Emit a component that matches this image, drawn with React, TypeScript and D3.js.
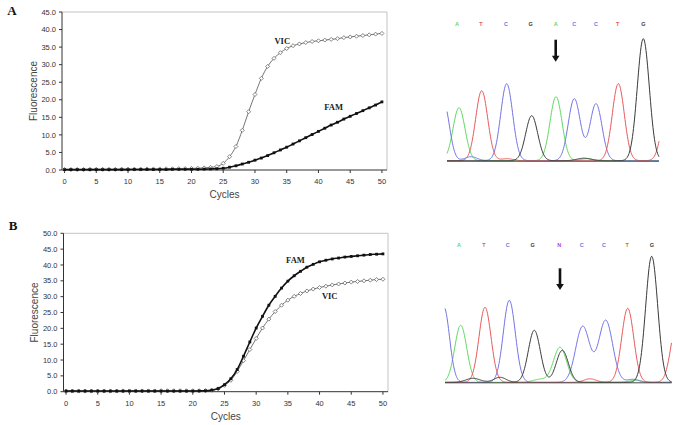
import * as d3 from "d3";

// ── qPCR amplification data (cycle 0..50) ─────────────────────────
const CYCLES = d3.range(0, 51);

const VIC_A = [
  0.15, 0.15, 0.15, 0.15, 0.2, 0.2, 0.2, 0.2, 0.2, 0.25,
  0.25, 0.25, 0.25, 0.3, 0.3, 0.3, 0.35, 0.35, 0.4, 0.4,
  0.45, 0.5, 0.6, 0.75, 1.0, 1.9, 3.8, 6.7, 11.3, 16.6,
  21.5, 26.1, 29.5, 31.8, 33.4, 34.6, 35.4, 35.9, 36.3, 36.6,
  36.8, 37.0, 37.2, 37.4, 37.7, 37.9, 38.1, 38.3, 38.5, 38.7,
  38.9,
];
const FAM_A = [
  0.1, 0.1, 0.1, 0.1, 0.1, 0.1, 0.1, 0.1, 0.1, 0.1,
  0.1, 0.15, 0.15, 0.15, 0.15, 0.15, 0.15, 0.2, 0.2, 0.2,
  0.2, 0.2, 0.25, 0.3, 0.35, 0.5, 0.8, 1.2, 1.7, 2.2,
  2.8, 3.4, 4.1, 4.9, 5.7, 6.5, 7.4, 8.3, 9.2, 10.1,
  11.0, 11.9, 12.8, 13.6, 14.5, 15.3, 16.1, 16.9, 17.7, 18.5,
  19.4,
];
const FAM_B = [
  0.2, 0.2, 0.2, 0.2, 0.2, 0.2, 0.2, 0.2, 0.2, 0.2,
  0.2, 0.2, 0.2, 0.2, 0.2, 0.2, 0.2, 0.2, 0.2, 0.2,
  0.2, 0.25, 0.3, 0.5, 1.0, 2.2, 4.1, 7.0, 11.2, 15.7,
  20.1, 23.8, 27.3, 30.1, 32.7, 34.9, 36.6, 38.0, 39.3, 40.2,
  41.0, 41.5, 41.9, 42.2, 42.5, 42.7, 42.9, 43.1, 43.3, 43.4,
  43.5,
];
const VIC_B = [
  0.2, 0.2, 0.2, 0.2, 0.2, 0.2, 0.2, 0.2, 0.2, 0.25,
  0.25, 0.25, 0.25, 0.25, 0.25, 0.3, 0.3, 0.3, 0.3, 0.3,
  0.3, 0.3, 0.35, 0.45, 0.9, 2.0, 3.6, 6.4, 9.8, 13.3,
  16.8, 20.1, 22.9, 25.3, 27.3, 28.9, 30.1, 31.0, 31.8, 32.4,
  32.9, 33.3, 33.7, 34.0, 34.3, 34.6, 34.8, 35.0, 35.2, 35.4,
  35.5,
];

const X_TICKS = d3.range(0, 51, 5);
const Y_TICKS_A = d3.range(0, 46, 5);
const Y_TICKS_B = d3.range(0, 51, 5);

// ── Sequencing chromatogram: [base, scan position, height, width] ──
type Peak = [string, number, number, number];

const PEAKS_A: Peak[] = [
  ["C", -3, 57, 5.5], ["A", 12, 53, 6], ["T", 34.7, 70, 6], ["C", 59.7, 77, 6],
  ["G", 84.7, 45, 6], ["A", 109, 64, 6], ["C", 127.3, 62, 6], ["C", 149, 57, 6],
  ["T", 171.3, 77, 6], ["G", 196.3, 122, 6], ["T", 221, 60, 6],
  ["C", 24, 4, 6], ["G", 137, 2.5, 7], ["T", 60, 2, 6], ["A", 140, 2, 6],
];
const CALLS_A = ["A", "T", "C", "G", "A", "C", "C", "T", "G"];
const CALL_POS_A = [10, 34, 59, 83.7, 108.7, 127.3, 149, 170.7, 196.3];

const PEAKS_B: Peak[] = [
  ["C", -1, 75, 5.5], ["A", 15.7, 57, 6], ["T", 40, 75, 6], ["C", 64.3, 82, 6],
  ["G", 89.3, 52, 6], ["G", 117.3, 32, 6], ["A", 115, 35, 6.5], ["C", 137.7, 56, 7],
  ["C", 160.7, 62, 7], ["T", 182.7, 74, 6], ["G", 206.7, 126, 6], ["T", 232, 60, 6],
  ["G", 28, 4, 7], ["G", 55, 5, 6], ["A", 95, 3, 7], ["T", 145, 3.5, 6],
  ["C", 188, 3, 6], ["A", 190, 2, 6],
];
const CALLS_B = ["A", "T", "C", "G", "N", "C", "C", "T", "G"];
const CALL_POS_B = [14, 39, 62.7, 87.7, 114.3, 136.7, 159, 182.3, 207];

const BASE_COLORS: Record<string, string> = {
  A: "#5fd95f",
  T: "#e85a5a",
  C: "#7474e6",
  G: "#3a3a3a",
  N: "#b040f0",
};
const TRACE_ORDER = ["A", "C", "T", "G"];

const AXIS_FONT = "'Liberation Sans', Arial, sans-serif";
const SERIF = "'Liberation Serif', 'Times New Roman', serif";

interface SeriesDef {
  values: number[];
  kind: "vic" | "fam";
}
interface LabelDef {
  text: string;
  x: number; // cycle
  y: number; // fluorescence
}

function AmpPlot(props: {
  left: number;
  right: number;
  top: number;
  bottom: number;
  yMax: number;
  yTicks: number[];
  series: SeriesDef[];
  labels: LabelDef[];
}) {
  const { left, right, top, bottom, yMax, yTicks, series, labels } = props;
  const x = d3.scaleLinear().domain([-0.4, 50.8]).range([left, right]);
  const y = d3.scaleLinear().domain([0, yMax]).range([bottom, top]);
  const line = d3
    .line<number>()
    .x((_, i) => x(CYCLES[i]))
    .y((d) => y(d))
    .curve(d3.curveMonotoneX);
  const fmt = d3.format(".1f");

  return (
    <g>
      {/* frame */}
      <line x1={left} x2={right} y1={top} y2={top} stroke="#c4c4c4" strokeWidth={1} />
      <line x1={right} x2={right} y1={top} y2={bottom} stroke="#c4c4c4" strokeWidth={1} />
      <line x1={left} x2={left} y1={top} y2={bottom} stroke="#333" strokeWidth={1} />
      <line x1={left} x2={right} y1={bottom} y2={bottom} stroke="#333" strokeWidth={1} />

      {yTicks.map((t) => (
        <g key={"y" + t}>
          <line x1={left - 3} x2={left} y1={y(t)} y2={y(t)} stroke="#333" />
          <text
            x={left - 6}
            y={y(t)}
            dy="0.35em"
            textAnchor="end"
            fontSize={7.5}
            fontFamily={AXIS_FONT}
            fill="#333"
          >
            {fmt(t)}
          </text>
        </g>
      ))}
      {X_TICKS.map((t) => (
        <g key={"x" + t}>
          <line x1={x(t)} x2={x(t)} y1={bottom} y2={bottom + 3} stroke="#333" />
          <text
            x={x(t)}
            y={bottom + 14}
            textAnchor="middle"
            fontSize={7.5}
            fontFamily={AXIS_FONT}
            fill="#333"
          >
            {t}
          </text>
        </g>
      ))}

      <text
        x={(left + right) / 2}
        y={bottom + 28}
        textAnchor="middle"
        fontSize={10}
        fontFamily={AXIS_FONT}
        fill="#444"
      >
        Cycles
      </text>
      <text
        transform={`translate(${left - 29},${(top + bottom) / 2}) rotate(-90)`}
        textAnchor="middle"
        dy="0.35em"
        fontSize={10}
        fontFamily={AXIS_FONT}
        fill="#444"
      >
        Fluorescence
      </text>

      {series.map((s, si) => (
        <g key={si}>
          <path
            d={line(s.values) ?? ""}
            fill="none"
            stroke={s.kind === "fam" ? "#111" : "#666"}
            strokeWidth={s.kind === "fam" ? 1.6 : 0.9}
          />
          {s.values.map((v, i) =>
            s.kind === "fam" ? (
              <rect key={i} x={x(CYCLES[i]) - 1.4} y={y(v) - 1.4} width={2.8} height={2.8} fill="#111" />
            ) : (
              <path
                key={i}
                d={`M${x(CYCLES[i])},${y(v) - 2}l2,2l-2,2l-2,-2z`}
                fill="#fff"
                stroke="#555"
                strokeWidth={0.7}
              />
            )
          )}
        </g>
      ))}

      {labels.map((l) => (
        <text
          key={l.text}
          x={x(l.x)}
          y={y(l.y)}
          dy="0.35em"
          textAnchor="middle"
          fontSize={8.5}
          fontWeight="bold"
          fontFamily={SERIF}
          fill="#222"
        >
          {l.text}
        </text>
      ))}
    </g>
  );
}

function Chromatogram(props: {
  x0: number;
  x1: number;
  baseline: number;
  scanMax: number;
  peaks: Peak[];
  calls: string[];
  callPos: number[];
  arrowPos: number;
  arrowTop: number;
  arrowTip: number;
}) {
  const { x0, x1, baseline, scanMax, peaks, calls, callPos, arrowPos, arrowTop, arrowTip } = props;
  const x = d3.scaleLinear().domain([0, scanMax]).range([x0, x1]);
  const y = d3.scaleLinear().domain([0, 130]).range([baseline, baseline - 130]);
  const scans = d3.range(0, scanMax + 0.01, 0.5);

  const traces = TRACE_ORDER.map((b) => {
    const pk = peaks.filter((p) => p[0] === b);
    const pts: [number, number][] = scans.map((s) => [
      x(s),
      y(d3.sum(pk, (p) => p[2] * Math.exp(-((s - p[1]) ** 2) / (2 * p[3] * p[3])))),
    ]);
    return { b, d: d3.line().curve(d3.curveLinear)(pts) ?? "" };
  });

  const ax = x(arrowPos);
  const tipY = y(arrowTip);
  return (
    <g>
      {traces.map((t) => (
        <path key={t.b} d={t.d} fill="none" stroke={BASE_COLORS[t.b]} strokeWidth={1} />
      ))}
      <line x1={x0} x2={x1} y1={baseline + 0.5} y2={baseline + 0.5} stroke="#444" strokeWidth={1} />
      {calls.map((c, i) => (
        <text
          key={i}
          x={x(callPos[i])}
          y={y(137)}
          dy="0.35em"
          textAnchor="middle"
          fontSize={5.5}
          fontWeight="bold"
          fontFamily={AXIS_FONT}
          fill={BASE_COLORS[c]}
        >
          {c}
        </text>
      ))}
      <line x1={ax} x2={ax} y1={y(arrowTop)} y2={tipY - 5} stroke="#111" strokeWidth={2.6} />
      <path d={`M${ax - 3.8},${tipY - 6}L${ax + 3.8},${tipY - 6}L${ax},${tipY}Z`} fill="#111" />
    </g>
  );
}

export default function App() {
  return (
    <svg
      width={685}
      height={425}
      style={{ position: "absolute", left: 0, top: 0, background: "#fff" }}
    >
      <rect width={685} height={425} fill="#fff" />
      <text x={12} y={10} dy="0.35em" textAnchor="middle" fontSize={13} fontWeight="bold" fontFamily={SERIF} fill="#111">
        A
      </text>
      <text x={13} y={225} dy="0.35em" textAnchor="middle" fontSize={13} fontWeight="bold" fontFamily={SERIF} fill="#111">
        B
      </text>

      <AmpPlot
        left={62}
        right={387}
        top={12}
        bottom={170}
        yMax={45}
        yTicks={Y_TICKS_A}
        series={[
          { values: VIC_A, kind: "vic" },
          { values: FAM_A, kind: "fam" },
        ]}
        labels={[
          { text: "VIC", x: 34.3, y: 36.8 },
          { text: "FAM", x: 42.4, y: 17.9 },
        ]}
      />
      <AmpPlot
        left={63.5}
        right={388}
        top={233.3}
        bottom={391.7}
        yMax={50}
        yTicks={Y_TICKS_B}
        series={[
          { values: VIC_B, kind: "vic" },
          { values: FAM_B, kind: "fam" },
        ]}
        labels={[
          { text: "FAM", x: 36.2, y: 41.5 },
          { text: "VIC", x: 41.6, y: 30.2 },
        ]}
      />

      <Chromatogram
        x0={447}
        x1={659}
        baseline={160.7}
        scanMax={212}
        peaks={PEAKS_A}
        calls={CALLS_A}
        callPos={CALL_POS_A}
        arrowPos={108.7}
        arrowTop={121}
        arrowTip={99}
      />
      <Chromatogram
        x0={445}
        x1={671.7}
        baseline={382.3}
        scanMax={226.7}
        peaks={PEAKS_B}
        calls={CALLS_B}
        callPos={CALL_POS_B}
        arrowPos={115}
        arrowTop={114}
        arrowTip={92.3}
      />
    </svg>
  );
}
